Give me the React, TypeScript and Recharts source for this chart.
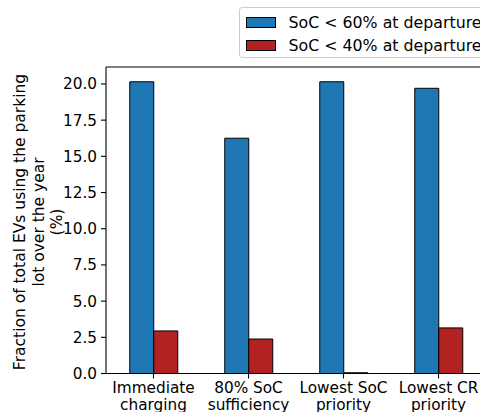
import { BarChart, Bar, XAxis, YAxis, ReferenceLine } from "recharts";

const categories = ["Immediate\ncharging", "80% SoC\nsufficiency", "Lowest SoC\npriority", "Lowest CR\npriority"];
const soc60 = [20.15, 16.25, 20.15, 19.7];
const soc40 = [2.94, 2.38, 0.05, 3.15];
const yTicks = [0, 2.5, 5, 7.5, 10, 12.5, 15, 17.5, 20];
const yLabel = ["Fraction of total EVs using the parking", "lot over the year", "(%)"];

const series = [
  { key: "soc60", name: "SoC < 60% at departure", color: "#1f77b4" },
  { key: "soc40", name: "SoC < 40% at departure", color: "#b22222" },
];

const data = categories.map((c, i) => ({ name: c, soc60: soc60[i], soc40: soc40[i] }));

const FONT = "DejaVu Sans";
const FS = 15.3;
const Y_MAX = 21.17;

function XTick({ x, y, payload }: any) {
  const lines = String(payload.value).split("\n");
  return (
    <g>
      <line x1={x} x2={x} y1={y - 8} y2={y - 3} stroke="#000" strokeWidth={1.1} />
      <text x={x} y={y + 11.5} textAnchor="middle" fontFamily={FONT} fontSize={FS} fill="#000">
        {lines.map((l, i) => (
          <tspan key={i} x={x} dy={i === 0 ? 0 : 17}>{l}</tspan>
        ))}
      </text>
    </g>
  );
}

function YLabel() {
  const cx = 20;
  const cy = 222;
  return (
    <text
      transform={`rotate(-90 ${cx} ${cy})`}
      x={cx}
      y={cy}
      textAnchor="middle"
      fontFamily={FONT}
      fontSize={15.5}
      fill="#000"
    >
      {yLabel.map((l, i) => (
        <tspan key={i} x={cx} dy={i === 0 ? 5 : 18.5}>{l}</tspan>
      ))}
    </text>
  );
}

export default function App() {
  return (
    <div style={{ position: "absolute", left: 0, top: 0, width: 480, height: 412, overflow: "hidden", background: "#fff" }}>
      <BarChart
        width={500}
        height={412}
        data={data}
        margin={{ top: 67, right: 14, bottom: 0, left: 0 }}
        barCategoryGap="25%"
        barGap={0}
      >
        <XAxis
          dataKey="name"
          axisLine={{ stroke: "#000", strokeWidth: 1.1 }}
          tickLine={false}
          tick={<XTick />}
          interval={0}
          height={38.5}
        />
        <YAxis
          domain={[0, Y_MAX]}
          ticks={yTicks}
          allowDataOverflow
          width={106}
          axisLine={{ stroke: "#000", strokeWidth: 1.1 }}
          tickLine={{ stroke: "#000", strokeWidth: 1.1 }}
          tickSize={5}
          tickMargin={4}
          tickFormatter={(v: number) => v.toFixed(1)}
          tick={{ fontFamily: FONT, fontSize: FS, fill: "#000" }}
          label={<YLabel />}
        />
        <ReferenceLine y={Y_MAX} stroke="#000" strokeWidth={1.1} />
        {series.map((s) => (
          <Bar
            key={s.key}
            dataKey={s.key}
            name={s.name}
            fill={s.color}
            stroke="#000"
            strokeWidth={1}
            isAnimationActive={false}
          />
        ))}
      </BarChart>
      <div
        style={{
          position: "absolute",
          left: 238.5,
          top: 7,
          width: 260,
          height: 51,
          border: "1px solid #cccccc",
          borderRadius: 3,
          boxSizing: "border-box",
          fontFamily: FONT,
          fontSize: 15.8,
          background: "#fff",
        }}
      >
        {series.map((s, i) => (
          <div key={s.key} style={{ position: "absolute", left: 6, top: 4 + i * 23, height: 20, display: "flex", alignItems: "center", whiteSpace: "nowrap" }}>
            <span style={{ display: "inline-block", width: 30, height: 11, background: s.color, border: "1px solid #000", boxSizing: "border-box", marginRight: 13 }} />
            <span>{s.name}</span>
          </div>
        ))}
      </div>
    </div>
  );
}
